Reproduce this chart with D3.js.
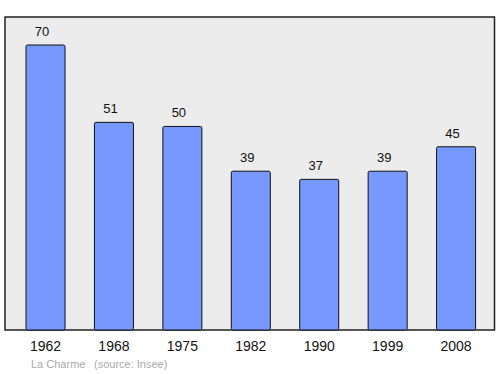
<!DOCTYPE html>
<html><head><meta charset="utf-8">
<script src="https://cdn.jsdelivr.net/npm/d3@7"></script>
<style>body{margin:0;background:#fff}svg{display:block;font-family:"Liberation Sans",Arial,sans-serif}</style>
</head><body><svg width="500" height="374"></svg>
<script>
const years = ["1962","1968","1975","1982","1990","1999","2008"];
const population = [70,51,50,39,37,39,45];
const footerName = "La Charme";
const footerSource = "(source: Insee)";

const svg = d3.select("svg");
const frame = {x0:5, x1:494.5, y0:17, y1:330};
svg.append("rect").attr("x",frame.x0).attr("y",frame.y0)
  .attr("width",frame.x1-frame.x0).attr("height",frame.y1-frame.y0)
  .attr("fill","#ececec").attr("stroke","#222").attr("stroke-width",1.5);

const x = d3.scaleBand().domain(years).range([11.3, 490.3]).paddingInner(0.43).paddingOuter(0.215);
const y = d3.scaleLinear().domain([0,70]).range([330,45]);

svg.selectAll("rect.bar").data(population).join("rect").attr("class","bar")
  .attr("x",(d,i)=>x(years[i])).attr("width",x.bandwidth())
  .attr("y",d=>y(d)).attr("height",d=>330-y(d))
  .attr("rx",1.5)
  .attr("fill","#7799ff").attr("stroke","#111").attr("stroke-width",1);

svg.selectAll("text.val").data(population).join("text").attr("class","val")
  .attr("x",(d,i)=>x(years[i])+x.bandwidth()/2-3.5).attr("y",d=>y(d)-9)
  .attr("text-anchor","middle").attr("font-size",13).attr("fill","#111").text(d=>d);

const xAxis = svg.append("g").attr("transform","translate(0,330)")
  .call(d3.axisBottom(x).tickSize(0).tickPadding(11));
xAxis.select(".domain").remove();
xAxis.selectAll("text").attr("font-size",14).attr("fill","#111")
  .attr("font-family","'Liberation Sans',Arial,sans-serif");

svg.append("text").attr("x",31).attr("y",368).attr("font-size",11).attr("fill","#aaa").text(footerName);
svg.append("text").attr("x",94).attr("y",368).attr("font-size",11).attr("fill","#aaa").text(footerSource);
</script></body></html>
